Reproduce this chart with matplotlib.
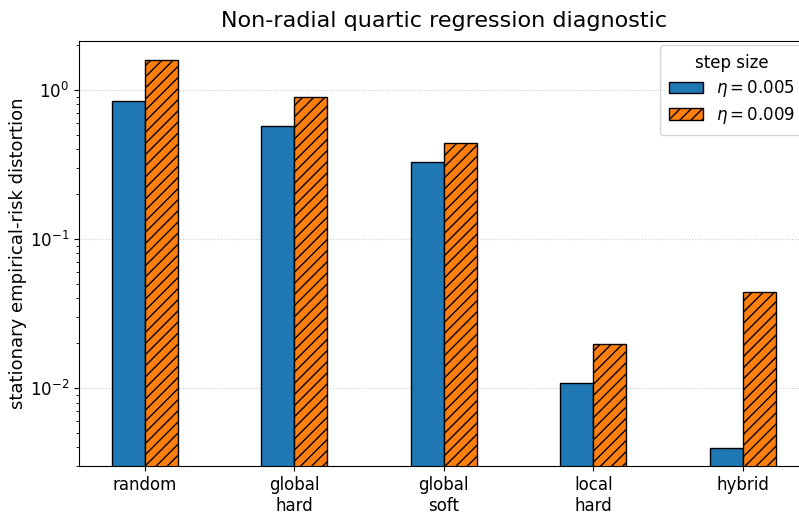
import numpy as np
import matplotlib
matplotlib.use('Agg')
import matplotlib.pyplot as plt

categories = ["random", "global\nhard", "global\nsoft", "local\nhard", "hybrid"]
eta_labels = [r"$\eta = 0.005$", r"$\eta = 0.009$"]
vals_005 = [0.84, 0.573, 0.329, 0.0108, 0.00396]
vals_009 = [1.59, 0.898, 0.441, 0.0197, 0.0441]

fig = plt.figure(figsize=(7.99, 5.12), dpi=100)
# axes run a little past the right edge, as in the reference crop
ax = fig.add_axes([0.0989, 0.0898, 0.9131, 0.830])

x = np.arange(len(categories))
w = 0.22
ax.bar(x - w / 2, vals_005, w, color="#1f77b4", edgecolor="black",
       linewidth=1.0, label=eta_labels[0])
ax.bar(x + w / 2, vals_009, w, color="#ff7f0e", edgecolor="black",
       linewidth=1.0, hatch="///", label=eta_labels[1])

ax.set_yscale("log")
ax.set_ylim(0.0030, 2.13)
ax.set_xlim(-0.44, 4.44)
ax.set_xticks(x)
ax.set_xticklabels(categories, fontsize=12)
ax.tick_params(axis="y", labelsize=12)
ax.set_ylabel("stationary empirical-risk distortion", fontsize=13, labelpad=2)
ax.set_title("Non-radial quartic regression diagnostic", fontsize=16, pad=10)
ax.grid(axis="y", which="major", linestyle=":", color="#cccccc", linewidth=0.8)
ax.set_axisbelow(True)

ax.legend(title="step size", loc="upper right", fontsize=12, title_fontsize=12,
          labelspacing=0.35, borderaxespad=0.25, borderpad=0.55,
          handlelength=2.0, handletextpad=0.8)

fig.savefig("out.png", dpi=100)
